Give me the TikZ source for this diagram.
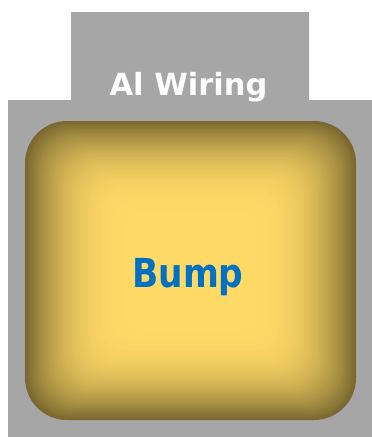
\documentclass[tikz,border=0pt]{standalone}
\usepackage{fontspec}
\newfontfamily\labelfont{DejaVu Sans}
\definecolor{wiregray}{HTML}{A6A6A6}
\definecolor{bumpbright}{HTML}{FFD966}
\definecolor{bumpdark}{HTML}{7A6830}
\definecolor{bumpblue}{HTML}{0070C0}
\tikzset{
  wiretext/.style={text=white, font=\labelfont\bfseries\fontsize{30.5}{36}\selectfont, inner sep=0pt, anchor=base},
  bumptext/.style={text=bumpblue, font=\labelfont\bfseries\fontsize{40}{48}\selectfont, inner sep=0pt, anchor=base}
}
\begin{document}
\begin{tikzpicture}[x=1pt,y=-1pt]
  \fill[white] (0,0) rectangle (372,437);
  \useasboundingbox (0,0) rectangle (372,437);
  % gray Al wiring shape
  \fill[wiregray] (8,100) -- (71,100) -- (71,12) -- (309,12) -- (309,100)
     -- (372,100) -- (372,437) -- (8,437) -- cycle;
  % bump with path gradient
  \foreach \k in {0,...,70}{
    \pgfmathsetmacro\s{1-\k/100}
    \pgfmathsetmacro\t{min(1,(1-\s)/0.6)}
    \pgfmathtruncatemacro\p{100*(1-(1-\t)^2.3)}
    \pgfmathsetmacro\r{\s*42}
    \fill[bumpbright!\p!bumpdark, rounded corners=\r pt]
      ({190.5-\s*165.5},{270.5-\s*149.5}) rectangle ({190.5+\s*165.5},{270.5+\s*149.5});
  }
  \node[wiretext] (alwiring) at (188.5,95) {Al Wiring};
  \node[bumptext] (bump) at (188,287) {\scalebox{0.86}[1]{Bump}};
\end{tikzpicture}
\end{document}
